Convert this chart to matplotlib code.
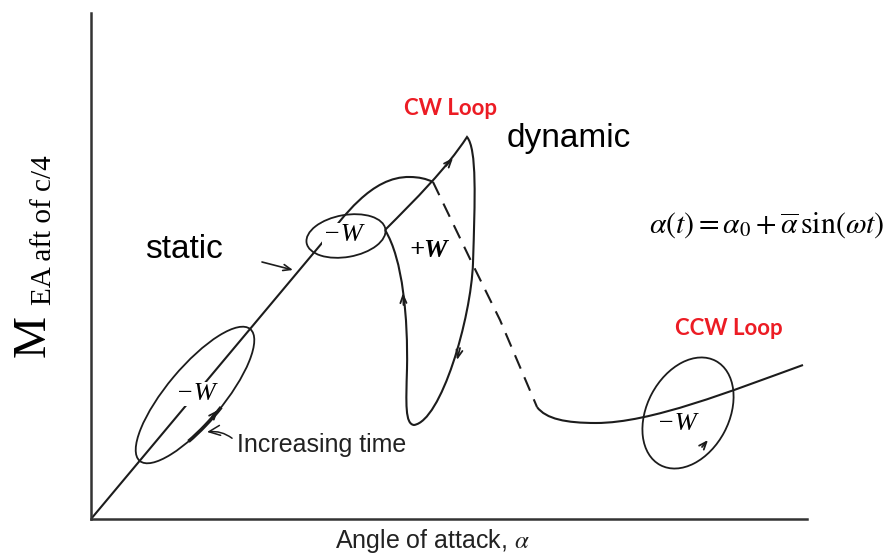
import matplotlib
matplotlib.use("Agg")
import matplotlib.pyplot as plt
from matplotlib.path import Path
from matplotlib.patches import PathPatch, Ellipse, Arc

# Schematic moment curve, in plot units (1 unit = 1 px on the 892x555 canvas)
# static pitching moment: linear rise, rounded maximum (Bezier control points)
STATIC_X = [0, 231, 252, 280, 319, 332, 342]
STATIC_Y = [0, 276, 301, 343, 342, 342, 337]
# stall drop (dashed)
STALL_X = [342, 381, 409, 446]
STALL_Y = [337, 256, 199, 112]
# post-stall branch
POST_X = [446, 455, 475, 505, 560, 640, 712]
POST_Y = [112, 100, 96, 96, 96, 128, 154]
# CW figure-eight loop near stall (start at crossing, up, down right side, back up)
LOOP_X = [294, 325, 355, 376, 386, 384, 382, 380, 350, 323, 314, 315, 316, 317, 312, 294]
LOOP_Y = [289, 320, 350, 382, 370, 320, 256, 200, 98, 94, 95, 115, 150, 200, 260, 289]

# ellipses: centre x, centre y, width, height, angle
LOW_LOOP = (104, 124, 172, 56, 50)
SMALL_LOOP = (255, 283, 80, 42, 10)
CCW_LOOP = (597, 106, 118, 82, 62)

# direction arrows along the loops: (tail, tip)
LOOP_ARROWS = [
    ((121, 102), (127, 109)),
    ((355, 353), (362, 361)),
    ((369, 171), (366, 159)),
    ((312.5, 214), (312, 226)),
    ((611, 72), (617, 79)),
]

INK = "#1c1c1c"
RED = "#ec1c24"

fig = plt.figure(figsize=(8.92, 5.55), dpi=100)
ax = fig.add_axes([91 / 892, 36 / 555, 716 / 892, 506 / 555])
ax.set_xlim(0, 716)
ax.set_ylim(0, 506)
for side in ("top", "right"):
    ax.spines[side].set_visible(False)
for side in ("left", "bottom"):
    ax.spines[side].set_linewidth(1.8)
    ax.spines[side].set_color("#333333")
ax.set_xticks([])
ax.set_yticks([])

C4, C3, L, M = Path.CURVE4, Path.CURVE3, Path.LINETO, Path.MOVETO

# static curve
codes = [M, L, C4, C4, C4, C3, C3]
ax.add_patch(PathPatch(Path(list(zip(STATIC_X, STATIC_Y)), codes),
                       fill=False, lw=1.5, ec=INK))
ax.plot(STALL_X, STALL_Y, color=INK, lw=1.5, dashes=(7, 4.5))
codes = [M, C4, C4, C4, C4, C4, C4]
ax.add_patch(PathPatch(Path(list(zip(POST_X, POST_Y)), codes),
                       fill=False, lw=1.5, ec=INK))

# dynamic loops
codes = [M] + [C4] * 15
ax.add_patch(PathPatch(Path(list(zip(LOOP_X, LOOP_Y)), codes),
                       fill=False, lw=1.5, ec=INK))
for cx, cy, w, h, ang in (LOW_LOOP, SMALL_LOOP, CCW_LOOP):
    ax.add_patch(Ellipse((cx, cy), w, h, angle=ang, fill=False, lw=1.3, ec=INK))
cx, cy, w, h, ang = LOW_LOOP
ax.add_patch(Arc((cx, cy), w, h, angle=ang, theta1=212, theta2=285, lw=2.6, color=INK))

for tail, tip in LOOP_ARROWS:
    ax.annotate("", xy=tip, xytext=tail,
                arrowprops=dict(arrowstyle="->,head_length=0.55,head_width=0.22",
                                lw=1.3, color=INK, shrinkA=0, shrinkB=0))

# work labels (white backing breaks the curve underneath)
wbox = dict(boxstyle="square,pad=0.05", fc="white", ec="none")
serif = ["Liberation Serif", "DejaVu Serif"]
ax.text(105, 125, "\u2212W", family=serif, style="italic", fontsize=19,
        ha="center", va="center", bbox=wbox, zorder=5)
ax.text(252, 284, "\u2212W", family=serif, style="italic", fontsize=19,
        ha="center", va="center", bbox=wbox, zorder=5)
ax.text(338, 269, "+W", family=serif, style="italic", fontsize=19,
        weight="bold", ha="center", va="center", zorder=5)
ax.text(586, 95, "\u2212W", family=serif, style="italic", fontsize=19,
        ha="center", va="center", zorder=5)

sans = ["Liberation Sans", "DejaVu Sans"]
ax.text(93, 261, "static", family=sans, fontsize=24, ha="center", va="baseline")
ax.text(478, 372, "dynamic", family=sans, fontsize=24, ha="center", va="baseline")
ax.annotate("", xy=(202, 249), xytext=(171, 257),
            arrowprops=dict(arrowstyle="->,head_length=0.55,head_width=0.22",
                            lw=1.2, color=INK, shrinkA=0, shrinkB=0))

ax.annotate("Increasing time", xy=(116, 87), xytext=(146, 67),
            family=sans, fontsize=18, va="baseline", ha="left", color="#222222",
            arrowprops=dict(arrowstyle="->,head_length=0.45,head_width=0.2",
                            lw=1.1, color=INK, shrinkA=2, shrinkB=0,
                            relpos=(0, 0.6), connectionstyle="arc3,rad=0.25"))

ax.text(360, 404, "CW Loop", family=["Lato", "DejaVu Sans"], weight="bold",
        fontsize=16, color=RED, ha="center", va="baseline")
ax.text(638, 184, "CCW Loop", family=["Lato", "DejaVu Sans"], weight="bold",
        fontsize=16, color=RED, ha="center", va="baseline")

plt.rcParams["mathtext.fontset"] = "stix"
ax.text(676, 286, r"$\alpha(t) = \alpha_0 + \overline{\alpha}\,\sin(\omega t)$",
        fontsize=21.5, ha="center", va="baseline")

# axis labels
ax.text(341, -29, r"Angle of attack, $\alpha$", family=sans, fontsize=18,
        ha="center", va="baseline", color="#222222")
ax.text(-46, 183, "M", family=serif, fontsize=34, rotation=90,
        rotation_mode="anchor", ha="center", va="baseline")
ax.text(-40, 214, "EA aft of c/4", family=serif, fontsize=21, rotation=90,
        rotation_mode="anchor", ha="left", va="baseline")

fig.savefig("out.png", dpi=100)
